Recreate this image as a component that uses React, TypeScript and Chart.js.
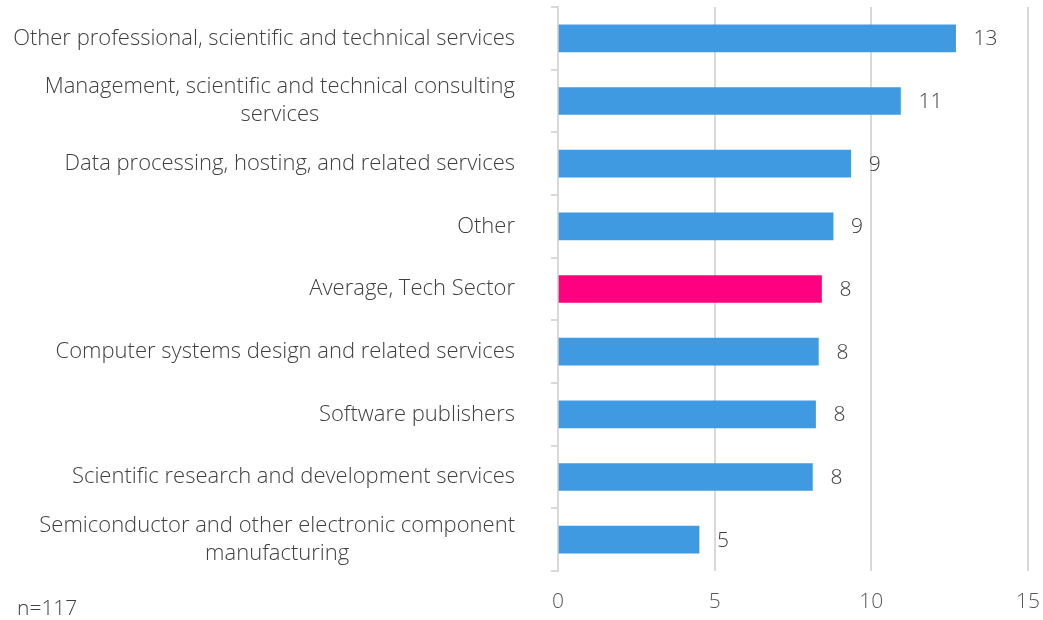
import React, { useEffect, useRef } from "react";
import { Chart, registerables } from "chart.js";

Chart.register(...registerables);

const categories: (string | string[])[] = [
  "Other professional, scientific and technical services",
  ["Management, scientific and technical consulting", "services"],
  "Data processing, hosting, and related services",
  "Other",
  "Average, Tech Sector",
  "Computer systems design and related services",
  "Software publishers",
  "Scientific research and development services",
  ["Semiconductor and other electronic component", "manufacturing"],
];

const values: number[] = [12.69, 10.93, 9.34, 8.78, 8.41, 8.31, 8.22, 8.12, 4.5];

const barColors: string[] = [
  "#409ae2", "#409ae2", "#409ae2", "#409ae2", "#ff0080",
  "#409ae2", "#409ae2", "#409ae2", "#409ae2",
];

const xTicks: number[] = [0, 5, 10, 15];
const footnote = "n=117";

const FONT = "'Open Sans', 'DejaVu Sans', sans-serif";
const CAT_FONT_SIZE = 22;
const CAT_LINE_HEIGHT = 28;
const LABEL_RIGHT = 515;

const labelPlugin = {
  id: "valueLabels",
  afterDraw(chart: any) {
    const ctx = chart.ctx;
    const meta = chart.getDatasetMeta(0);
    const yScale = chart.scales.y;
    ctx.save();
    // category labels: block right-aligned, lines centered within block
    ctx.font = `300 ${CAT_FONT_SIZE}px ${FONT}`;
    ctx.fillStyle = "#404040";
    ctx.textAlign = "center";
    ctx.textBaseline = "middle";
    categories.forEach((cat, i) => {
      const lines = Array.isArray(cat) ? cat : [cat];
      const maxW = Math.max(...lines.map((l) => ctx.measureText(l).width));
      const cx = LABEL_RIGHT - maxW / 2;
      const cy = yScale.getPixelForTick(i);
      const startY = cy - ((lines.length - 1) * CAT_LINE_HEIGHT) / 2;
      lines.forEach((l, j) => {
        ctx.fillText(l, cx, startY + j * CAT_LINE_HEIGHT);
      });
    });
    // value labels
    ctx.font = `300 21px ${FONT}`;
    ctx.textAlign = "left";
    meta.data.forEach((bar: any, i: number) => {
      ctx.fillText(String(Math.round(values[i])), bar.x + 18, bar.y + 1);
    });
    ctx.textBaseline = "alphabetic";
    ctx.fillText(footnote, 17, 615);
    ctx.restore();
  },
};

export default function App() {
  const ref = useRef<HTMLCanvasElement | null>(null);
  useEffect(() => {
    if (!ref.current) return;
    const chart = new Chart(ref.current, {
      type: "bar",
      data: {
        labels: categories,
        datasets: [
          {
            data: values,
            backgroundColor: barColors,
            borderWidth: 0,
            barThickness: 27,
          },
        ],
      },
      options: {
        indexAxis: "y",
        animation: false,
        responsive: false,
        maintainAspectRatio: false,
        layout: { padding: { top: 7, right: 15, left: 0, bottom: 0 } },
        plugins: {
          legend: { display: false },
          tooltip: { enabled: false },
        },
        scales: {
          x: {
            min: 0,
            max: 15,
            afterBuildTicks: (scale: any) => {
              scale.ticks = xTicks.map((v) => ({ value: v }));
            },
            afterFit: (scale: any) => {
              scale.height = 49;
              scale.paddingLeft = 0;
              scale.paddingRight = 0;
            },
            grid: {
              color: "#d9d9d9",
              lineWidth: 2,
              drawTicks: false,
            },
            border: { display: false },
            ticks: {
              color: "#595959",
              font: { family: FONT, size: 21, weight: "300" as any },
              padding: 18,
            },
          },
          y: {
            afterFit: (scale: any) => {
              scale.width = 558;
              scale.paddingTop = 0;
              scale.paddingBottom = 0;
            },
            grid: {
              offset: true,
              drawOnChartArea: false,
              drawTicks: true,
              tickLength: 7,
              color: "#d9d9d9",
              lineWidth: 2,
            },
            border: { display: true, color: "#d9d9d9", width: 2 },
            ticks: {
              color: "rgba(0,0,0,0)",
              font: { family: FONT, size: CAT_FONT_SIZE, weight: "300" as any, lineHeight: 1.28 },
              padding: 36,
              autoSkip: false,
            },
          },
        },
      },
      plugins: [labelPlugin],
    });
    return () => chart.destroy();
  }, []);
  return (
    <div style={{ position: "fixed", left: 0, top: 0, width: 1043, height: 620, background: "#fff" }}>
      <canvas ref={ref} width={1043} height={620} />
    </div>
  );
}
